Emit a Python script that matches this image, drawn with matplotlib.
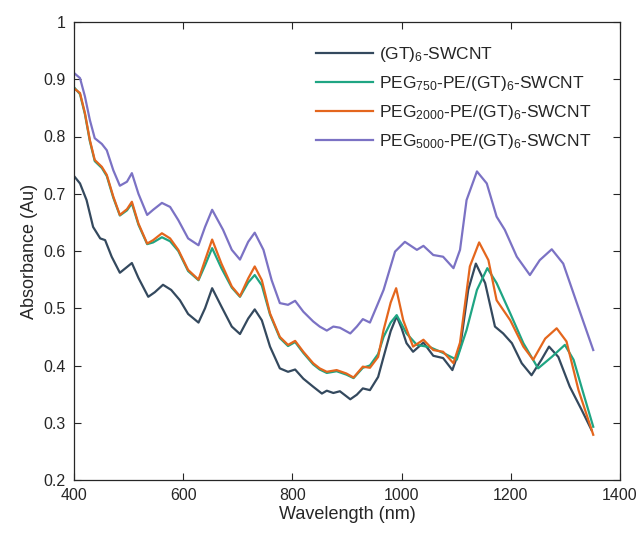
import numpy as np
import matplotlib
matplotlib.use('Agg')
import matplotlib.pyplot as plt

plt.rcParams['font.family'] = ['Liberation Sans', 'DejaVu Sans']
plt.rcParams['mathtext.default'] = 'regular'

# Wavelength (nm) / absorbance
wl_gt = [400, 411, 423, 435, 448, 457, 469, 484, 497, 506, 518, 536, 548, 563, 578, 594, 609, 628, 640,
         653, 670, 689, 704, 719, 731, 744, 759, 777, 792, 805, 820, 838, 854, 863, 875, 887, 906, 918,
         929, 942, 957, 967, 980, 991, 1000, 1009, 1021, 1040, 1058, 1076, 1093, 1107, 1122, 1136,
         1153, 1171, 1186, 1202, 1220, 1238, 1256, 1270, 1287, 1308, 1330, 1348]
abs_gt = [0.731, 0.718, 0.689, 0.642, 0.622, 0.619, 0.590, 0.562, 0.572, 0.579, 0.553, 0.520, 0.528,
          0.541, 0.532, 0.514, 0.490, 0.475, 0.500, 0.535, 0.503, 0.468, 0.455, 0.482, 0.498, 0.479,
          0.433, 0.395, 0.389, 0.393, 0.377, 0.363, 0.351, 0.356, 0.352, 0.355, 0.341, 0.349, 0.360,
          0.357, 0.380, 0.415, 0.460, 0.486, 0.465, 0.439, 0.424, 0.440, 0.417, 0.413, 0.392, 0.430,
          0.532, 0.578, 0.544, 0.468, 0.456, 0.439, 0.404, 0.383, 0.410, 0.433, 0.415, 0.363, 0.322,
          0.287]

wl_750 = [400, 411, 420, 429, 438, 451, 460, 472, 484, 497, 506, 518, 534, 545, 561, 576, 591, 609, 628,
          640, 653, 670, 689, 704, 719, 731, 744, 759, 777, 792, 805, 820, 838, 850, 863, 881, 899, 912,
          929, 942, 957, 967, 980, 991, 1009, 1028, 1052, 1076, 1101, 1119, 1138, 1157, 1174, 1199,
          1223, 1250, 1275, 1299, 1315, 1333, 1351]
abs_750 = [0.886, 0.874, 0.839, 0.792, 0.757, 0.745, 0.731, 0.693, 0.662, 0.671, 0.683, 0.646, 0.612,
           0.615, 0.624, 0.617, 0.600, 0.565, 0.549, 0.575, 0.605, 0.570, 0.536, 0.520, 0.545, 0.558,
           0.540, 0.489, 0.448, 0.434, 0.441, 0.422, 0.402, 0.393, 0.387, 0.390, 0.384, 0.378, 0.396,
           0.400, 0.420, 0.450, 0.475, 0.488, 0.456, 0.436, 0.432, 0.422, 0.410, 0.462, 0.532, 0.570,
           0.544, 0.491, 0.439, 0.395, 0.415, 0.436, 0.410, 0.351, 0.293]

wl_2000 = [400, 411, 420, 429, 438, 451, 460, 472, 484, 497, 506, 518, 534, 545, 561, 576, 591, 609, 628,
           640, 653, 670, 689, 704, 719, 731, 744, 759, 777, 792, 805, 820, 838, 850, 863, 881, 899, 912,
           929, 942, 957, 967, 980, 990, 1003, 1021, 1040, 1058, 1076, 1095, 1107, 1125, 1142, 1159,
           1174, 1199, 1223, 1241, 1263, 1284, 1302, 1324, 1351]
abs_2000 = [0.884, 0.876, 0.841, 0.794, 0.759, 0.747, 0.733, 0.695, 0.663, 0.673, 0.686, 0.648, 0.613,
            0.619, 0.631, 0.622, 0.602, 0.567, 0.550, 0.584, 0.620, 0.578, 0.538, 0.521, 0.552, 0.573,
            0.549, 0.491, 0.450, 0.436, 0.443, 0.424, 0.404, 0.395, 0.389, 0.392, 0.386, 0.379, 0.398,
            0.396, 0.415, 0.462, 0.510, 0.535, 0.479, 0.433, 0.445, 0.427, 0.424, 0.404, 0.440, 0.573,
            0.615, 0.584, 0.514, 0.479, 0.433, 0.410, 0.447, 0.465, 0.442, 0.357, 0.279]

wl_5000 = [400, 411, 420, 429, 438, 451, 460, 472, 484, 497, 506, 518, 534, 545, 561, 576, 591, 609, 628,
           640, 653, 673, 689, 704, 719, 731, 747, 762, 777, 792, 805, 820, 838, 850, 863, 875, 887, 906,
           918, 929, 942, 957, 967, 988, 1006, 1028, 1040, 1058, 1076, 1095, 1107, 1119, 1138, 1156,
           1174, 1189, 1211, 1235, 1253, 1275, 1296, 1321, 1351]
abs_5000 = [0.911, 0.902, 0.870, 0.829, 0.797, 0.787, 0.776, 0.741, 0.714, 0.721, 0.736, 0.700, 0.663,
            0.672, 0.684, 0.677, 0.654, 0.622, 0.610, 0.642, 0.672, 0.637, 0.602, 0.585, 0.616, 0.632,
            0.602, 0.549, 0.509, 0.506, 0.513, 0.494, 0.477, 0.468, 0.461, 0.468, 0.466, 0.456, 0.468,
            0.481, 0.475, 0.509, 0.532, 0.599, 0.616, 0.602, 0.609, 0.593, 0.590, 0.570, 0.602, 0.689,
            0.739, 0.718, 0.660, 0.637, 0.590, 0.558, 0.584, 0.603, 0.578, 0.509, 0.427]

labels = [r'(GT)$_6$-SWCNT',
          r'PEG$_{750}$-PE/(GT)$_6$-SWCNT',
          r'PEG$_{2000}$-PE/(GT)$_6$-SWCNT',
          r'PEG$_{5000}$-PE/(GT)$_6$-SWCNT']
colors = ['#34495e', '#1fa583', '#e4661d', '#7b72c4']

fig = plt.figure(figsize=(6.43, 5.39), dpi=100)
ax = fig.add_axes([74 / 643, 1 - 480 / 539, 546 / 643, 458 / 539])

series = [(wl_gt, abs_gt), (wl_750, abs_750), (wl_2000, abs_2000), (wl_5000, abs_5000)]
for (w, a), c, lab in zip(series, colors, labels):
    ax.plot(w, a, color=c, linewidth=1.6, label=lab, solid_joinstyle='round')

ax.set_xlim(400, 1400)
ax.set_ylim(0.2, 1)
ax.set_xticks(np.arange(400, 1401, 200))
ax.set_yticks(np.arange(0.2, 1.01, 0.1))
ax.set_yticklabels(['0.2', '0.3', '0.4', '0.5', '0.6', '0.7', '0.8', '0.9', '1'])
ax.tick_params(direction='in', top=True, right=True, length=5, width=0.8,
               labelsize=11.5, colors='#262626', pad=6)
for s in ax.spines.values():
    s.set_color('#262626')
    s.set_linewidth(0.9)
ax.set_xlabel('Wavelength (nm)', fontsize=13, color='#262626', labelpad=2)
ax.set_ylabel('Absorbance (Au)', fontsize=13, color='#262626', labelpad=4)

leg = ax.legend(loc='upper left', bbox_to_anchor=(0.443, 0.95), frameon=False, fontsize=12.5,
                handlelength=3.3, handletextpad=0.35, labelspacing=0.58, borderaxespad=0,
                borderpad=0)
for t in leg.get_texts():
    t.set_color('#262626')

fig.savefig('out.png', dpi=100)
